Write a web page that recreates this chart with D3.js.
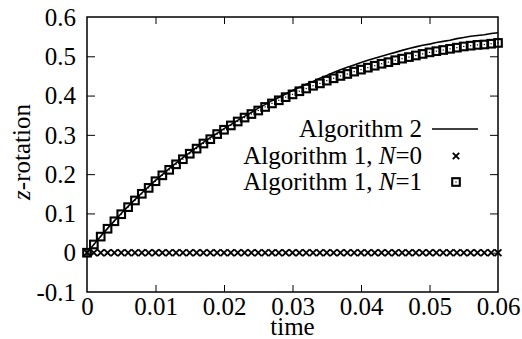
<!DOCTYPE html>
<html>
<head>
<meta charset="utf-8">
<script src="https://cdn.jsdelivr.net/npm/d3@7"></script>
<style>
  body { margin: 0; background: #fff; }
  svg { display: block; }
  .axis line { stroke: #000; stroke-width: 1; }
  .axis .domain { display: none; }
</style>
</head>
<body>
<svg id="chart"></svg>
<script>
// time samples (s)
const time = [0, 0.001, 0.002, 0.003, 0.004, 0.005, 0.006, 0.007, 0.008, 0.009,
  0.010, 0.011, 0.012, 0.013, 0.014, 0.015, 0.016, 0.017, 0.018, 0.019,
  0.020, 0.021, 0.022, 0.023, 0.024, 0.025, 0.026, 0.027, 0.028, 0.029,
  0.030, 0.031, 0.032, 0.033, 0.034, 0.035, 0.036, 0.037, 0.038, 0.039,
  0.040, 0.041, 0.042, 0.043, 0.044, 0.045, 0.046, 0.047, 0.048, 0.049,
  0.050, 0.051, 0.052, 0.053, 0.054, 0.055, 0.056, 0.057, 0.058, 0.059, 0.060];

// Algorithm 2 (solid line)
const algo2 = [0, 0.021, 0.042, 0.062, 0.081, 0.100, 0.118, 0.135, 0.152, 0.168,
  0.184, 0.199, 0.214, 0.228, 0.242, 0.255, 0.268, 0.281, 0.293, 0.304,
  0.316, 0.326, 0.337, 0.347, 0.357, 0.368, 0.377, 0.387, 0.395, 0.404,
  0.413, 0.421, 0.429, 0.436, 0.444, 0.451, 0.459, 0.466, 0.472, 0.478,
  0.484, 0.490, 0.495, 0.500, 0.505, 0.510, 0.515, 0.520, 0.524, 0.528,
  0.531, 0.535, 0.538, 0.541, 0.545, 0.548, 0.551, 0.553, 0.555, 0.558, 0.560];

// Algorithm 1, N=0 (crosses)
const algo1N0 = [0, 0, 0, 0, 0, 0, 0, 0, 0, 0, 0, 0, 0, 0, 0, 0, 0, 0, 0, 0,
  0, 0, 0, 0, 0, 0, 0, 0, 0, 0, 0, 0, 0, 0, 0, 0, 0, 0, 0, 0,
  0, 0, 0, 0, 0, 0, 0, 0, 0, 0, 0, 0, 0, 0, 0, 0, 0, 0, 0, 0, 0];

// Algorithm 1, N=1 (squares)
const algo1N1 = [0, 0.021, 0.041, 0.061, 0.080, 0.098, 0.116, 0.133, 0.150, 0.165,
  0.182, 0.197, 0.211, 0.225, 0.238, 0.252, 0.265, 0.278, 0.289, 0.302,
  0.313, 0.324, 0.334, 0.344, 0.353, 0.362, 0.371, 0.380, 0.388, 0.396,
  0.403, 0.411, 0.418, 0.425, 0.431, 0.438, 0.444, 0.450, 0.455, 0.461,
  0.466, 0.471, 0.476, 0.481, 0.485, 0.490, 0.494, 0.498, 0.502, 0.506,
  0.510, 0.513, 0.516, 0.519, 0.522, 0.525, 0.527, 0.529, 0.530, 0.532, 0.534];

const xTicks = [0, 0.01, 0.02, 0.03, 0.04, 0.05, 0.06];
const yTicks = [-0.1, 0, 0.1, 0.2, 0.3, 0.4, 0.5, 0.6];
const legendLabels = ['Algorithm 2', 'Algorithm 1, ', 'Algorithm 1, '];

const width = 522, height = 339;
const margin = { top: 17, right: 24, bottom: 47, left: 87 };
const w = width - margin.left - margin.right;
const h = height - margin.top - margin.bottom;
const serif = "'Liberation Serif', serif";
const fs = '25px';

const svg = d3.select('#chart')
  .attr('width', width)
  .attr('height', height);

const g = svg.append('g')
  .attr('transform', `translate(${margin.left},${margin.top})`);

const x = d3.scaleLinear().domain([0, 0.06]).range([0, w]);
const y = d3.scaleLinear().domain([-0.1, 0.6]).range([h, 0]);

const fmt = d => d === 0 ? '0' : String(+d.toFixed(2));

// bottom axis with labels, ticks pointing inward
g.append('g')
  .attr('class', 'axis')
  .attr('transform', `translate(0,${h})`)
  .call(d3.axisBottom(x).tickValues(xTicks).tickFormat(fmt).tickSizeInner(-7).tickSizeOuter(0).tickPadding(0))
  .call(a => a.selectAll('text').attr('y', 23).attr('dy', null)
    .style('font-family', serif).style('font-size', fs).attr('fill', '#000'))
  .call(a => a.selectAll('.tick').filter(d => d === 0 || d === 0.06).select('line').remove());

// top axis, ticks only
g.append('g')
  .attr('class', 'axis')
  .call(d3.axisTop(x).tickValues(xTicks).tickFormat('').tickSizeInner(-7).tickSizeOuter(0))
  .call(a => a.selectAll('.tick').filter(d => d === 0 || d === 0.06).select('line').remove());

// left axis with labels
g.append('g')
  .attr('class', 'axis')
  .call(d3.axisLeft(y).tickValues(yTicks).tickFormat(fmt).tickSizeInner(-8).tickSizeOuter(0).tickPadding(0))
  .call(a => a.selectAll('text').attr('x', -11).attr('dy', '0.33em')
    .style('font-family', serif).style('font-size', fs).attr('fill', '#000'))
  .call(a => a.selectAll('.tick').filter(d => d === -0.1 || d === 0.6).select('line').remove());

// right axis, ticks only
g.append('g')
  .attr('class', 'axis')
  .attr('transform', `translate(${w},0)`)
  .call(d3.axisRight(y).tickValues(yTicks).tickFormat('').tickSizeInner(-8).tickSizeOuter(0))
  .call(a => a.selectAll('.tick').filter(d => d === -0.1 || d === 0.6).select('line').remove());

// plot frame
g.append('rect')
  .attr('width', w)
  .attr('height', h)
  .attr('fill', 'none')
  .attr('stroke', '#000')
  .attr('stroke-width', 1.5);

// axis titles
svg.append('text')
  .attr('x', margin.left + w / 2)
  .attr('y', 335)
  .attr('text-anchor', 'middle')
  .style('font-family', serif)
  .style('font-size', fs)
  .text('time');

const yTitle = svg.append('text')
  .attr('transform', 'translate(30,152) rotate(-90)')
  .attr('text-anchor', 'middle')
  .style('font-family', serif)
  .style('font-size', fs);
yTitle.append('tspan').style('font-style', 'italic').text('z');
yTitle.append('tspan').text('-rotation');

const pts = time.map((t, i) => ({ t, a2: algo2[i], n0: algo1N0[i], n1: algo1N1[i] }));

// marker helpers
const crossPath = s => `M${-s},${-s}L${s},${s}M${-s},${s}L${s},${-s}`;
function drawSquare(sel) {
  sel.append('rect')
    .attr('x', -3.8).attr('y', -3.8)
    .attr('width', 7.6).attr('height', 7.6)
    .attr('fill', 'none')
    .attr('stroke', '#000')
    .attr('stroke-width', 2.1);
  sel.append('rect')
    .attr('x', -0.6).attr('y', -0.6)
    .attr('width', 1.2).attr('height', 1.2)
    .attr('fill', '#000');
}

// N=0 crosses
g.append('g').selectAll('path')
  .data(pts)
  .join('path')
  .attr('transform', d => `translate(${x(d.t)},${y(d.n0)})`)
  .attr('d', crossPath(3.4))
  .attr('stroke', '#000')
  .attr('stroke-width', 1.9)
  .attr('fill', 'none');

// N=1 squares
g.append('g').selectAll('g')
  .data(pts)
  .join('g')
  .attr('transform', d => `translate(${x(d.t)},${y(d.n1)})`)
  .call(drawSquare);

// Algorithm 2 line
g.append('path')
  .datum(pts)
  .attr('fill', 'none')
  .attr('stroke', '#000')
  .attr('stroke-width', 1.6)
  .attr('d', d3.line().x(d => x(d.t)).y(d => y(d.a2)));

// legend
const legend = svg.append('g');
const rows = [129, 156, 182];
const textX = 422, sampleX = 456;
legendLabels.forEach((lab, i) => {
  const t = legend.append('text')
    .attr('x', textX)
    .attr('y', rows[i])
    .attr('dy', '0.33em')
    .attr('text-anchor', 'end')
    .style('font-family', serif)
    .style('font-size', fs);
  t.append('tspan').text(lab);
  if (i > 0) {
    t.append('tspan').style('font-style', 'italic').text('N');
    t.append('tspan').text('=' + (i - 1));
  }
});
legend.append('line')
  .attr('x1', 432).attr('x2', 478)
  .attr('y1', rows[0]).attr('y2', rows[0])
  .attr('stroke', '#000').attr('stroke-width', 1.6);
legend.append('path')
  .attr('transform', `translate(${sampleX},${rows[1]})`)
  .attr('d', crossPath(3.2))
  .attr('stroke', '#000').attr('stroke-width', 1.9);
legend.append('g')
  .attr('transform', `translate(${sampleX},${rows[2]})`)
  .call(drawSquare);
</script>
</body>
</html>
